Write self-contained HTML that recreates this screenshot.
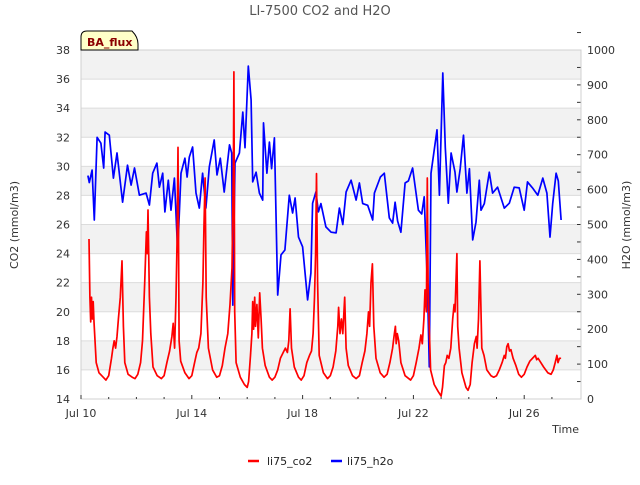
<!DOCTYPE html>
<html><head><meta charset="utf-8"><style>
body{margin:0;background:#fff;}
svg text{font-family:"DejaVu Sans","Liberation Sans",sans-serif;}
</style></head><body>
<svg id="chart" width="640" height="480" xmlns="http://www.w3.org/2000/svg">
<text x="320" y="15" text-anchor="middle" font-size="13" fill="#555">LI-7500 CO2 and H2O</text>
<g id="bands"></g>
<g id="axes"></g>
<g id="series"></g>
<g>
<path d="M81,50 L81,37 Q81,31 87,31 L132,31 Q138,37 138,44 L138,50 Z" fill="#ffffc8" stroke="#000" stroke-width="1"/>
<text x="87" y="46" font-size="11" font-weight="bold" fill="#8b0000">BA_flux</text>
</g>
<text transform="translate(18,225) rotate(-90)" text-anchor="middle" font-size="11" fill="#333">CO2 (mmol/m3)</text>
<text transform="translate(630,225) rotate(-90)" text-anchor="middle" font-size="11" fill="#333">H2O (mmol/m3)</text>
<text x="579" y="433" text-anchor="end" font-size="11" fill="#333">Time</text>
<g>
<g><line x1="248" y1="461" x2="259" y2="461" stroke="#f00" stroke-width="2.5"/><text x="267" y="465" font-size="11" fill="#222">li75_co2</text></g>
<g><line x1="331" y1="461" x2="342" y2="461" stroke="#00f" stroke-width="2.5"/><text x="347" y="465" font-size="11" fill="#222">li75_h2o</text></g>
</g>
</svg>
<script>
const co2T=[0.29,0.32,0.35,0.38,0.41,0.44,0.47,0.55,0.65,0.8,0.9,1.0,1.1,1.15,1.2,1.25,1.3,1.35,1.42,1.48,1.53,1.58,1.7,1.85,1.95,2.05,2.15,2.22,2.3,2.36,2.39,2.42,2.47,2.52,2.6,2.75,2.9,3.0,3.1,3.2,3.28,3.33,3.38,3.43,3.47,3.5,3.54,3.6,3.75,3.9,4.0,4.1,4.18,4.25,4.33,4.4,4.44,4.48,4.52,4.6,4.75,4.9,5.0,5.1,5.2,5.3,5.38,5.45,5.5,5.52,5.55,5.6,5.75,5.9,6.0,6.05,6.12,6.17,6.2,6.23,6.27,6.3,6.35,6.4,6.45,6.5,6.55,6.65,6.8,6.9,7.0,7.1,7.2,7.3,7.38,7.45,7.5,7.55,7.6,7.7,7.85,7.95,8.05,8.15,8.25,8.32,8.38,8.43,8.47,8.5,8.54,8.6,8.75,8.9,9.0,9.1,9.2,9.27,9.3,9.35,9.4,9.45,9.52,9.57,9.65,9.8,9.93,10.05,10.15,10.25,10.32,10.38,10.42,10.47,10.52,10.57,10.65,10.8,10.94,11.05,11.15,11.25,11.3,11.35,11.38,11.42,11.47,11.55,11.7,11.9,12.0,12.1,12.2,12.27,12.32,12.38,12.42,12.47,12.5,12.53,12.57,12.62,12.75,12.9,13.0,13.05,13.12,13.17,13.22,13.28,13.35,13.42,13.47,13.5,13.57,13.6,13.65,13.75,13.9,13.97,14.05,14.12,14.2,14.27,14.3,14.35,14.4,14.43,14.47,14.55,14.65,14.8,14.9,15.0,15.1,15.2,15.28,15.32,15.37,15.42,15.47,15.52,15.6,15.7,15.8,15.9,16.0,16.1,16.2,16.3,16.4,16.45,16.5,16.6,16.7,16.85,16.97,17.05,17.12,17.18,17.22,17.27,17.33];
const co2V=[25,21,19.3,21,19.5,20.7,19.3,16.5,15.8,15.5,15.3,15.6,16.8,17.5,18,17.5,18.3,19.5,21,23.5,19,16.5,15.7,15.5,15.4,15.7,16.5,18,22,25.5,24,27,21,18.5,16.2,15.6,15.4,15.6,16.5,17.3,18.3,19.2,17.5,21,25,31.3,18,16.6,15.8,15.4,15.6,16.5,17.2,17.5,18.5,22,26,29.2,21,17.5,16,15.5,15.6,16.3,17.5,18.5,20.5,23,30,36.5,20,16.5,15.5,15,14.8,15.2,17,18.5,20.7,18.8,21,19,20.5,18.2,21.3,19.5,17.5,16.3,15.5,15.3,15.5,16,16.8,17.2,17.5,17.2,18,20.2,17.5,16.2,15.5,15.3,15.6,16.5,17,17.3,18.5,21,24,29.5,22,17,15.8,15.4,15.6,16.2,17.3,19,20.3,18.5,19.5,18.5,21,17.5,16.3,15.6,15.4,15.6,16.5,17.3,18.5,20,19,22,23.3,19,16.8,15.8,15.5,15.7,16.5,17.5,18.3,19,17.8,18.5,18,16.5,15.6,15.3,15.6,16.5,17.5,18.4,17.8,19.5,21.5,20,29.2,22,19,16,15,14.5,14.2,14.8,16.3,16.5,17,16.8,17.5,19.5,20.5,20,24,19,17.5,15.8,14.8,14.6,15,16.5,17.8,18.3,17.5,19.5,23.5,21,17.5,17,16,15.6,15.5,15.6,16,16.5,17,16.8,17.6,17.8,17.3,17.4,16.8,16.3,15.7,15.5,15.7,16.2,16.6,16.8,17,16.7,16.8,16.5,16.2,15.8,15.7,16,16.5,17,16.5,16.8,16.8];
const h2oT=[0.25,0.3,0.4,0.48,0.58,0.72,0.82,0.87,1.02,1.17,1.30,1.50,1.68,1.81,1.93,2.11,2.35,2.47,2.59,2.74,2.83,2.95,3.03,3.15,3.25,3.37,3.49,3.61,3.75,3.83,3.91,4.03,4.15,4.27,4.39,4.51,4.63,4.81,4.91,5.03,5.17,5.36,5.44,5.48,5.56,5.72,5.84,5.92,6.04,6.14,6.20,6.32,6.44,6.56,6.59,6.71,6.80,6.88,6.98,7.10,7.22,7.36,7.52,7.64,7.73,7.85,8.00,8.18,8.30,8.36,8.48,8.57,8.66,8.84,9.03,9.21,9.33,9.45,9.57,9.75,9.93,10.05,10.17,10.35,10.53,10.59,10.81,10.95,11.13,11.25,11.34,11.43,11.55,11.70,11.82,11.97,12.18,12.30,12.39,12.51,12.575,12.635,12.85,12.94,13.06,13.15,13.26,13.36,13.50,13.57,13.69,13.81,13.93,14.02,14.14,14.26,14.38,14.44,14.56,14.74,14.86,15.04,15.28,15.46,15.64,15.82,16.00,16.12,16.30,16.49,16.67,16.82,16.93,17.03,17.15,17.23,17.33];
const h2oV=[640,620,656,513,750,733,662,765,756,633,705,564,670,613,662,584,590,556,647,676,607,647,536,627,541,633,421,647,690,636,693,722,590,547,647,547,665,742,642,690,593,728,705,269,676,705,822,720,954,857,622,650,590,570,791,647,736,660,748,298,413,427,584,533,576,464,436,284,361,561,593,536,560,493,478,476,547,500,593,627,570,619,560,555,513,590,636,647,519,504,564,510,478,619,625,662,541,530,579,321,92,647,771,584,934,720,561,705,650,593,660,756,590,660,456,507,627,541,560,650,590,607,547,561,607,605,541,622,605,584,633,590,464,560,647,625,513];
const xTickDays=[0,4,8,12,16];
const xTickLabels=["Jul 10","Jul 14","Jul 18","Jul 22","Jul 26"];
const yLeftTicks=[14,16,18,20,22,24,26,28,30,32,34,36,38];
const yRightTicks=[0,100,200,300,400,500,600,700,800,900,1000];

const L=81,R=581,T=50,B=399;
const xs=d=>L+d*(R-L)/18.05;
const yl=v=>B-(v-14)*(B-T)/24;
const yr=v=>B-v*(B-T)/1000;
const NS="http://www.w3.org/2000/svg";
function mk(tag,attrs,parent){const e=document.createElementNS(NS,tag);for(const k in attrs)e.setAttribute(k,attrs[k]);parent.appendChild(e);return e;}
const bands=document.getElementById('bands'),axes=document.getElementById('axes'),series=document.getElementById('series');
for(let i=0;i<yLeftTicks.length-1;i++){
  if(i%2===1){const r=mk('rect',{x:L,y:yl(yLeftTicks[i+1]),width:R-L,height:yl(yLeftTicks[i])-yl(yLeftTicks[i+1]),fill:'#f2f2f2'},bands);
  
  }
}
yLeftTicks.forEach(v=>{
  const g=mk('line',{x1:L,x2:R,y1:yl(v),y2:yl(v),stroke:'#dcdcdc','stroke-width':1},bands);
  
  
  const t=mk('text',{x:L-11,y:yl(v)+4,'text-anchor':'end','font-size':11,fill:'#333'},axes);t.textContent=v;
  
  
});
yRightTicks.forEach(v=>{
  mk('line',{x1:R,x2:R-4,y1:yr(v),y2:yr(v),stroke:'#333'},axes);
  mk('line',{x1:R,x2:R-4,y1:yr(v+50),y2:yr(v+50),stroke:'#333'},axes);
  const t=mk('text',{x:R+6,y:yr(v)+4,'font-size':11,fill:'#333'},axes);t.textContent=v;
  
  
});
const fr=mk('rect',{x:L,y:T,width:R-L,height:B-T,fill:'none',stroke:'#d0d0d0'},axes);


for(let d=0;d<=17;d++){mk('line',{x1:xs(d),x2:xs(d),y1:B,y2:B-(d%4===0?4:2),stroke:'#333'},axes);}
xTickDays.forEach((d,i)=>{
  const t=mk('text',{x:xs(d),y:B+18,'text-anchor':'middle','font-size':11,fill:'#333'},axes);t.textContent=xTickLabels[i];
  
  
});
function line(T_,V_,ys,color,name){
  const p=mk('polyline',{points:T_.map((t,i)=>xs(t).toFixed(1)+','+ys(V_[i]).toFixed(1)).join(' '),fill:'none',stroke:color,'stroke-width':1.7,'stroke-linejoin':'round'},series);
  
  
}
line(h2oT,h2oV,yr,'#00f','h2o-line');
line(co2T,co2V,yl,'#f00','co2-line');
</script>
</body></html>
